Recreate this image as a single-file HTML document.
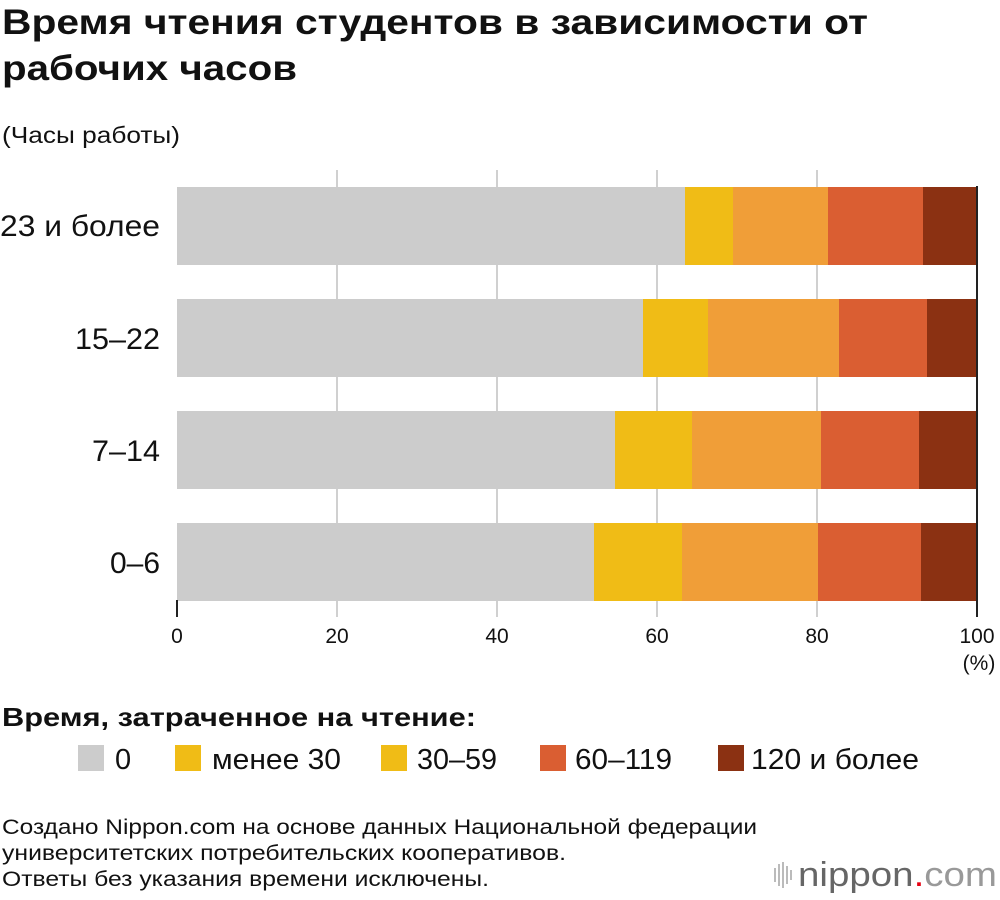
<!DOCTYPE html>
<html><head><meta charset="utf-8"><style>
body{margin:0;background:#fff;width:1000px;height:900px;overflow:hidden;font-family:"Liberation Sans",sans-serif;color:#111}
svg{position:absolute;left:0;top:0}
</style></head><body>
<svg width="1000" height="900" font-family="Liberation Sans, sans-serif">
<text x="2" y="34" font-size="35" font-weight="bold" fill="#111" textLength="866" lengthAdjust="spacingAndGlyphs">Время чтения студентов в зависимости от</text>
<text x="2" y="80" font-size="35" font-weight="bold" fill="#111" textLength="295" lengthAdjust="spacingAndGlyphs">рабочих часов</text>
<text x="2" y="143" font-size="23" fill="#111" textLength="178" lengthAdjust="spacingAndGlyphs">(Часы работы)</text>
<g stroke="#d0d0d0" stroke-width="2">
<line x1="337" y1="170" x2="337" y2="617"/><line x1="497" y1="170" x2="497" y2="617"/><line x1="657" y1="170" x2="657" y2="617"/><line x1="817" y1="170" x2="817" y2="617"/></g>
<g>
<rect x="177" y="187" width="508" height="78" fill="#cccccc"/><rect x="685" y="187" width="48" height="78" fill="#f0bc16"/><rect x="733" y="187" width="95" height="78" fill="#f09e38"/><rect x="828" y="187" width="95" height="78" fill="#da5e32"/><rect x="923" y="187" width="54" height="78" fill="#8b3112"/>
<rect x="177" y="299" width="466" height="78" fill="#cccccc"/><rect x="643" y="299" width="65" height="78" fill="#f0bc16"/><rect x="708" y="299" width="131" height="78" fill="#f09e38"/><rect x="839" y="299" width="88" height="78" fill="#da5e32"/><rect x="927" y="299" width="50" height="78" fill="#8b3112"/>
<rect x="177" y="411" width="438" height="78" fill="#cccccc"/><rect x="615" y="411" width="77" height="78" fill="#f0bc16"/><rect x="692" y="411" width="129" height="78" fill="#f09e38"/><rect x="821" y="411" width="98" height="78" fill="#da5e32"/><rect x="919" y="411" width="58" height="78" fill="#8b3112"/>
<rect x="177" y="523" width="417" height="78" fill="#cccccc"/><rect x="594" y="523" width="88" height="78" fill="#f0bc16"/><rect x="682" y="523" width="136" height="78" fill="#f09e38"/><rect x="818" y="523" width="103" height="78" fill="#da5e32"/><rect x="921" y="523" width="56" height="78" fill="#8b3112"/>
</g>
<line x1="977" y1="186" x2="977" y2="617" stroke="#222" stroke-width="2"/>
<line x1="177" y1="600" x2="177" y2="617" stroke="#222" stroke-width="2"/>
<g font-size="30" fill="#111" lengthAdjust="spacingAndGlyphs">
<text x="0" y="236" textLength="160" lengthAdjust="spacingAndGlyphs">23 и более</text>
<text x="75" y="349" textLength="85" lengthAdjust="spacingAndGlyphs">15–22</text>
<text x="92" y="461" textLength="68" lengthAdjust="spacingAndGlyphs">7–14</text>
<text x="110" y="573" textLength="50" lengthAdjust="spacingAndGlyphs">0–6</text></g>
<g font-size="21" text-anchor="middle" fill="#111">
<text x="177" y="643">0</text><text x="337" y="643">20</text><text x="497" y="643">40</text><text x="657" y="643">60</text><text x="817" y="643">80</text><text x="977" y="643">100</text><text x="979" y="670">(%)</text></g>
<text x="2" y="726" font-size="26" font-weight="bold" fill="#111" textLength="474" lengthAdjust="spacingAndGlyphs">Время, затраченное на чтение:</text>
<g font-size="29" fill="#111">
<rect x="78" y="745" width="26" height="26" fill="#cccccc"/><text x="115" y="769">0</text>
<rect x="175" y="745" width="26" height="26" fill="#f0bc16"/><text x="212" y="769" textLength="129" lengthAdjust="spacingAndGlyphs">менее 30</text>
<rect x="381" y="745" width="26" height="26" fill="#f0bc16"/><text x="417" y="769" textLength="80" lengthAdjust="spacingAndGlyphs">30–59</text>
<rect x="540" y="745" width="26" height="26" fill="#da5e32"/><text x="575" y="769" textLength="97" lengthAdjust="spacingAndGlyphs">60–119</text>
<rect x="718" y="745" width="26" height="26" fill="#8b3112"/><text x="751" y="769" textLength="168" lengthAdjust="spacingAndGlyphs">120 и более</text>
</g>
<g font-size="21" fill="#111">
<text x="2" y="834" textLength="755" lengthAdjust="spacingAndGlyphs">Создано Nippon.com на основе данных Национальной федерации</text>
<text x="2" y="860" textLength="564" lengthAdjust="spacingAndGlyphs">университетских потребительских кооперативов.</text>
<text x="2" y="886" textLength="487" lengthAdjust="spacingAndGlyphs">Ответы без указания времени исключены.</text></g>
<g fill="#bbb"><rect x="774" y="868" width="2" height="14"/><rect x="778" y="864" width="2" height="22"/><rect x="782" y="862" width="2" height="26"/><rect x="786" y="866" width="2" height="18"/><rect x="790" y="870" width="2" height="10"/></g>
<text x="798" y="886" font-size="34" fill="#666" textLength="199" lengthAdjust="spacingAndGlyphs">nippon<tspan fill="#e60012">.</tspan><tspan fill="#999">com</tspan></text>
</svg>
</body></html>
